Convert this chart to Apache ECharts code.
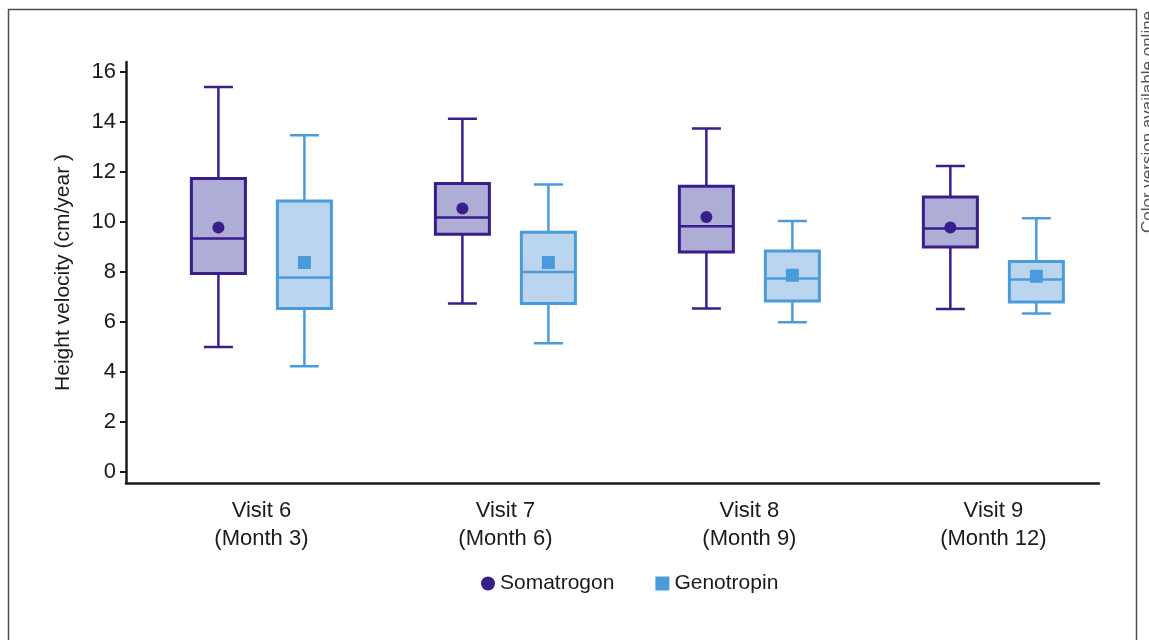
<!DOCTYPE html>
<html>
<head>
<meta charset="utf-8">
<script src="https://cdn.jsdelivr.net/npm/echarts@6/dist/echarts.min.js"></script>
<style>
  html, body { margin: 0; padding: 0; background: #fff; }
  #chart { width: 1149px; height: 640px; }
</style>
</head>
<body>
<div id="chart"></div>
<script>
const categories = ['Visit 6\n(Month 3)', 'Visit 7\n(Month 6)', 'Visit 8\n(Month 9)', 'Visit 9\n(Month 12)'];
const yTicks = [0, 2, 4, 6, 8, 10, 12, 14, 16];

// Somatrogon
const somaMin = [5.0, 6.74, 6.54, 6.52];
const somaQ1 = [7.94, 9.51, 8.8, 9.0];
const somaMedian = [9.34, 10.18, 9.83, 9.74];
const somaQ3 = [11.74, 11.54, 11.43, 11.0];
const somaMax = [15.4, 14.13, 13.74, 12.24];
const somaMean = [9.78, 10.54, 10.2, 9.78];

// Genotropin
const genoMin = [4.23, 5.15, 5.99, 6.34];
const genoQ1 = [6.54, 6.74, 6.84, 6.8];
const genoMedian = [7.78, 8.0, 7.74, 7.7];
const genoQ3 = [10.84, 9.59, 8.84, 8.42];
const genoMax = [13.47, 11.5, 10.04, 10.15];
const genoMean = [8.38, 8.38, 7.87, 7.83];

const SOMA_STROKE = '#3a1d8c';
const SOMA_FILL = '#adadd6';
const GENO_STROKE = '#4a9bdc';
const GENO_FILL = '#bcd5ef';
const SHIFT = 43;
const BOX_W = 54;
const CAP_W = 29;
const FONT = '"Liberation Sans", Arial, sans-serif';

function boxData(mins, q1s, meds, q3s, maxs) {
  return categories.map((c, i) => [i, mins[i], q1s[i], meds[i], q3s[i], maxs[i]]);
}

function boxRenderer(shift, stroke, fill) {
  return function (params, api) {
    const x = api.coord([api.value(0), 0])[0] + shift;
    const yv = k => api.coord([0, api.value(k)])[1];
    const yMin = yv(1), yQ1 = yv(2), yMed = yv(3), yQ3 = yv(4), yMax = yv(5);
    const half = BOX_W / 2, cap = CAP_W / 2;
    const ls = { stroke: stroke, lineWidth: 2.5 };
    return {
      type: 'group',
      children: [
        { type: 'line', shape: { x1: x, y1: yMax, x2: x, y2: yQ3 }, style: ls },
        { type: 'line', shape: { x1: x, y1: yQ1, x2: x, y2: yMin }, style: ls },
        { type: 'line', shape: { x1: x - cap, y1: yMax, x2: x + cap, y2: yMax }, style: ls },
        { type: 'line', shape: { x1: x - cap, y1: yMin, x2: x + cap, y2: yMin }, style: ls },
        { type: 'rect', shape: { x: x - half, y: yQ3, width: BOX_W, height: yQ1 - yQ3 },
          style: { fill: fill, stroke: stroke, lineWidth: 3 } },
        { type: 'line', shape: { x1: x - half, y1: yMed, x2: x + half, y2: yMed }, style: ls }
      ]
    };
  };
}

const chart = echarts.init(document.getElementById('chart'), null, { renderer: 'canvas' });

const option = {
  animation: false,
  backgroundColor: '#fff',
  textStyle: { fontFamily: FONT },
  graphic: [
    {
      type: 'rect',
      shape: { x: 8.5, y: 9.5, width: 1128, height: 700 },
      style: { fill: 'none', stroke: '#4d4d4d', lineWidth: 1.5 },
      silent: true
    },
    {
      type: 'text',
      x: 1140,
      y: 233,
      rotation: Math.PI / 2,
      style: {
        text: 'Color version available online',
        fill: '#555',
        font: '17px ' + FONT,
        textAlign: 'left',
        textVerticalAlign: 'top'
      },
      silent: true
    }
  ],
  grid: { left: 126, right: 50, top: 62, bottom: 157 },
  legend: {
    left: 476,
    top: 568,
    itemWidth: 14,
    itemHeight: 14,
    itemGap: 41,
    textStyle: { fontSize: 21, color: '#1a1a1a', fontFamily: FONT },
    data: [
      { name: 'Somatrogon', icon: 'circle' },
      { name: 'Genotropin', icon: 'rect' }
    ]
  },
  xAxis: {
    type: 'value',
    min: -0.555,
    max: 3.433,
    splitLine: { show: false },
    axisLine: { show: true, onZero: false, lineStyle: { color: '#1a1a1a', width: 2.5 } },
    axisTick: { show: false },
    axisLabel: {
      customValues: [0, 1, 2, 3],
      formatter: v => categories[Math.round(v)],
      fontSize: 22,
      lineHeight: 28,
      color: '#1a1a1a',
      margin: 14,
      fontFamily: FONT
    }
  },
  yAxis: {
    type: 'value',
    min: -0.44,
    max: 16.4,
    name: 'Height velocity (cm/year )',
    nameLocation: 'middle',
    nameRotate: 90,
    nameGap: 52,
    nameTextStyle: { fontSize: 21, color: '#1a1a1a', fontFamily: FONT },
    splitLine: { show: false },
    axisLine: { show: true, onZero: false, lineStyle: { color: '#1a1a1a', width: 2.5 } },
    axisTick: {
      show: true,
      customValues: yTicks,
      length: 6,
      lineStyle: { color: '#1a1a1a', width: 2 }
    },
    axisLabel: {
      customValues: yTicks,
      fontSize: 22,
      color: '#1a1a1a',
      margin: 10,
      fontFamily: FONT
    }
  },
  series: [
    {
      name: 'Somatrogon box',
      type: 'custom',
      renderItem: boxRenderer(-SHIFT, SOMA_STROKE, SOMA_FILL),
      data: boxData(somaMin, somaQ1, somaMedian, somaQ3, somaMax),
      encode: { x: 0, y: [1, 2, 3, 4, 5] },
      z: 2
    },
    {
      name: 'Genotropin box',
      type: 'custom',
      renderItem: boxRenderer(SHIFT, GENO_STROKE, GENO_FILL),
      data: boxData(genoMin, genoQ1, genoMedian, genoQ3, genoMax),
      encode: { x: 0, y: [1, 2, 3, 4, 5] },
      z: 2
    },
    {
      name: 'Somatrogon',
      type: 'scatter',
      symbol: 'circle',
      symbolSize: 12,
      symbolOffset: [-SHIFT, 0],
      itemStyle: { color: SOMA_STROKE, opacity: 1 },
      data: somaMean.map((v, i) => [i, v]),
      z: 5
    },
    {
      name: 'Genotropin',
      type: 'scatter',
      symbol: 'rect',
      symbolSize: 13,
      symbolOffset: [SHIFT, 0],
      itemStyle: { color: GENO_STROKE, opacity: 1 },
      data: genoMean.map((v, i) => [i, v]),
      z: 5
    }
  ]
};

chart.setOption(option);
</script>
</body>
</html>
